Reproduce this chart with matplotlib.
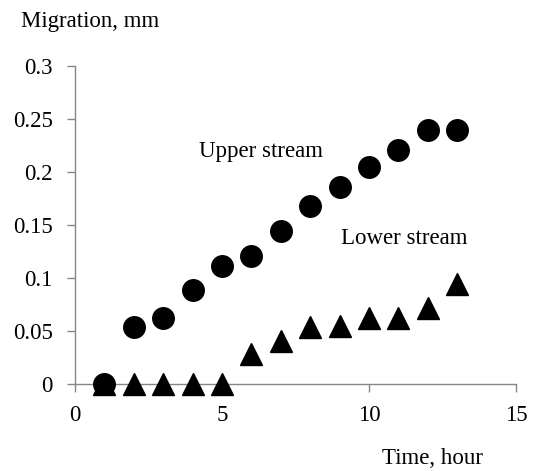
import matplotlib
matplotlib.use('Agg')
import matplotlib.pyplot as plt

# values
hours = [1, 2, 3, 4, 5, 6, 7, 8, 9, 10, 11, 12, 13]
upper_stream = [0.0, 0.054, 0.062, 0.089, 0.111, 0.121, 0.144, 0.168, 0.186, 0.205, 0.221, 0.240, 0.240]
lower_stream = [0.0, 0.0, 0.0, 0.0, 0.0, 0.028, 0.041, 0.054, 0.055, 0.062, 0.062, 0.072, 0.094]
x_ticks = [0, 5, 10, 15]
y_ticks = [0, 0.05, 0.1, 0.15, 0.2, 0.25, 0.3]
y_tick_labels = ['0', '0.05', '0.1', '0.15', '0.2', '0.25', '0.3']

plt.rcParams['font.family'] = ['Liberation Serif', 'DejaVu Serif']
axis_grey = '#868686'
fs = 16.5
W, H = 540, 471

fig = plt.figure(figsize=(W / 100, H / 100), dpi=100)
ax = fig.add_axes([75 / W, 1 - 384 / H, (516 - 75) / W, (384 - 66) / H])

ax.plot(hours, lower_stream, linestyle='none', marker='^', markersize=16.5,
        color='black', clip_on=False, zorder=3)
ax.plot(hours, upper_stream, linestyle='none', marker='o', markersize=15.5,
        color='black', clip_on=False, zorder=4)

ax.set_xlim(0, 15)
ax.set_ylim(0, 0.3)
ax.set_xticks(x_ticks)
ax.set_yticks(y_ticks)
ax.set_yticklabels(y_tick_labels)

for side in ['top', 'right']:
    ax.spines[side].set_visible(False)
for side in ['left', 'bottom']:
    ax.spines[side].set_color(axis_grey)
    ax.spines[side].set_linewidth(1.0)

ax.tick_params(axis='both', colors=axis_grey, labelcolor='black',
               labelsize=fs, direction='out', length=6, width=1.0)
ax.tick_params(axis='y', pad=10)
ax.tick_params(axis='x', pad=9)

ax.text(4.22, 0.214, 'Upper stream', fontsize=fs, va='baseline', ha='left')
ax.text(9.04, 0.132, 'Lower stream', fontsize=fs, va='baseline', ha='left')

fig.text(21 / W, 1 - 27 / H, 'Migration, mm', fontsize=fs, va='baseline', ha='left')
fig.text(382 / W, 1 - 464 / H, 'Time, hour', fontsize=fs, va='baseline', ha='left')

fig.savefig('out.png', dpi=100)
